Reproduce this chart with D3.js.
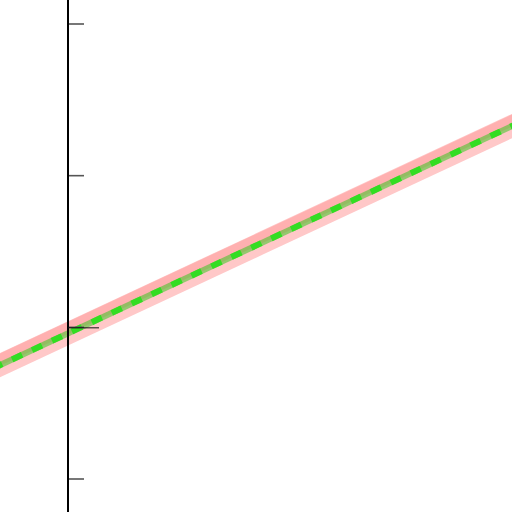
<!DOCTYPE html>
<html><head><meta charset="utf-8">
<script src="https://cdn.jsdelivr.net/npm/d3@7"></script>
<style>html,body{margin:0;padding:0;background:#fff;}svg{display:block;}</style>
</head><body>
<svg id="c" width="512" height="512"></svg>
<script>
const yTicks = [0, 1, 2, 3];
const lineX = [-0.5, 3];
const lineY = [0.727, 2.361];
const markerValue = [1];

const svg = d3.select("#c");
const x = d3.scaleLinear().domain([0, 1]).range([68, 219.67]);
const y = d3.scaleLinear().domain([0, 3]).range([479, 24]);

const pts = lineX.map((v, i) => [v, lineY[i]]);
const line = d3.line().x(d => x(d[0])).y(d => y(d[1]));

// pink band
svg.append("path").attr("d", line(pts)).attr("fill", "none")
  .attr("stroke", "#ffc8c8").attr("stroke-width", 22);
svg.append("path").attr("d", line(pts)).attr("fill", "none")
  .attr("stroke", "#ffb0b0").attr("stroke-width", 11)
  .attr("transform", "translate(0,-5.5)");
// green
svg.append("path").attr("d", line(pts)).attr("fill", "none")
  .attr("stroke", "rgba(40,200,20,0.5)").attr("stroke-width", 6);
svg.append("path").attr("d", line(pts)).attr("fill", "none")
  .attr("stroke", "#33dd22").attr("stroke-width", 6)
  .attr("stroke-dasharray", "11,11");

// axis
const ax = d3.axisRight(y).tickValues(yTicks).tickSize(16).tickFormat("").offset(0);
const g = svg.append("g").attr("transform", "translate(68,0)").call(ax);
g.select(".domain").remove();
g.selectAll(".tick line").attr("stroke", "#555").attr("stroke-width", 1.6);
svg.append("line").attr("x1", 68).attr("x2", 68).attr("y1", 0).attr("y2", 512)
  .attr("stroke", "#000").attr("stroke-width", 2);
svg.selectAll(".marker").data(markerValue).enter().append("line")
  .attr("class", "marker")
  .attr("x1", 68).attr("x2", 99).attr("y1", d => y(d) + 0.5).attr("y2", d => y(d) + 0.5)
  .attr("stroke", "#111").attr("stroke-width", 1);
</script>
</body></html>
